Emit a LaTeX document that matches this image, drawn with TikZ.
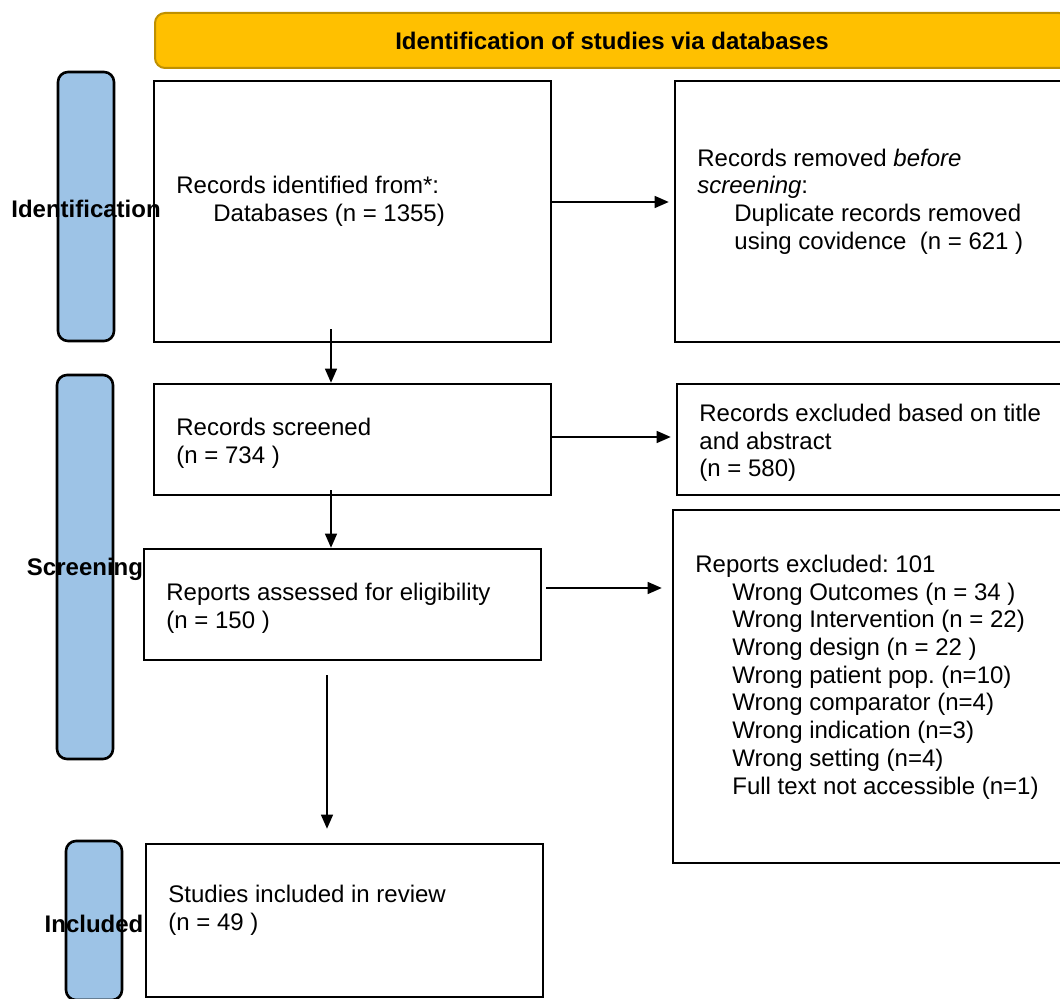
\documentclass[tikz,border=0pt]{standalone}
\usepackage{fontspec}
\setmainfont{Liberation Sans}
\usepackage{xcolor}
\usetikzlibrary{arrows.meta,positioning}
\definecolor{bannerfill}{HTML}{FFC000}
\definecolor{bannerdraw}{HTML}{BF9000}
\definecolor{stagefill}{HTML}{9DC3E6}
\newcommand{\ind}{\hspace*{18.5pt}}
\frenchspacing

\begin{document}
\begin{tikzpicture}[x=0.5pt, y=-0.5pt, font=\fontsize{12}{13.85}\selectfont,
  box/.style={draw, line width=1.3pt, inner sep=0pt, minimum width=198.5pt},
  stage/.style={draw, line width=1.3pt, fill=stagefill, rounded corners=5pt,
    inner sep=0pt, minimum width=28pt},
  stagelab/.style={font=\fontsize{12}{13.85}\selectfont\bfseries},
  txt/.style={anchor=west, align=left, inner sep=0pt},
  arr/.style={-{Triangle[length=7pt, width=6pt]}, line width=0.65pt}]
\useasboundingbox (0,0) rectangle (1060,999);
% ---- banner ----
\node[draw=bannerdraw, fill=bannerfill, line width=1pt, rounded corners=5pt,
  minimum width=457pt, minimum height=27.5pt, font=\fontsize{12}{13.85}\selectfont\bfseries]
  (banner) at (612,40.5) {Identification of studies via databases};
% ---- stage bars on the left ----
\node[stage, minimum height=134.5pt] (idbar) at (86,206.5) {};
\node[stage, minimum height=192pt] (scrbar) at (85,567) {};
\node[stage, minimum height=79.5pt] (incbar) at (94,920.5) {};
\node[stagelab] (idlab) at (86,209) {Identification};
\node[stagelab] (scrlab) at (85,569) {Screening};
\node[stagelab] (inclab) at (94,924) {Included};
% ---- main column ----
\node[box, minimum height=130.5pt] (ident) at (352.5,211.5) {};
\node[txt] (identtxt) at (176,201.5)
  {Records identified from*:\\ \ind Databases (n = 1355)};
\node[box, minimum height=55.5pt] (screened) at (352.5,439.5) {};
\node[txt] (screenedtxt) at (176,443) {Records screened\\(n = 734 )};
\node[box, minimum height=55.5pt] (assessed) at (342.5,604.5) {};
\node[txt] (assessedtxt) at (166,608) {Reports assessed for eligibility\\(n = 150 )};
\node[box, minimum height=76.5pt] (included) at (344.5,920.5) {};
\node[txt] (includedtxt) at (168,910) {Studies included in review\\(n = 49 )};
% ---- right column ----
\node[box, minimum height=130.5pt] (removed) at (873.5,211.5) {};
\node[txt] (removedtxt) at (697,201.5)
  {Records removed \textit{before}\\ \textit{screening}:\\
   \ind Duplicate records removed\\ \ind using covidence\ \ (n = 621 )};
\node[box, minimum height=55.5pt] (excluded) at (875.5,439.5) {};
\node[txt] (excludedtxt) at (699,443)
  {Records excluded based on title\\and abstract\\(n = 580)};
\node[box, minimum height=176.5pt] (rptexcl) at (871.5,686.5) {};
\node[txt] (rptexcltxt) at (695,677)
  {Reports excluded: 101\\
   \ind Wrong Outcomes (n = 34 )\\
   \ind Wrong Intervention (n = 22)\\
   \ind Wrong design (n = 22 )\\
   \ind Wrong patient pop. (n=10)\\
   \ind Wrong comparator (n=4)\\
   \ind Wrong indication (n=3)\\
   \ind Wrong setting (n=4)\\
   \ind Full text not accessible (n=1)};
% ---- arrows ----
\coordinate (colx) at (331,0);
\coordinate (colx2) at (327,0);
\coordinate (row1) at (0,202);
\coordinate (row2) at (0,437);
\coordinate (row3) at (0,588);
\draw[arr] ([yshift=7pt]ident.south -| colx) -- (screened.north -| colx);
\draw[arr] ([yshift=3pt]screened.south -| colx) -- (assessed.north -| colx);
\draw[arr, shorten <=7pt, shorten >=7pt] (assessed.south -| colx2) -- (included.north -| colx2);
\draw[arr, shorten >=2.5pt] (ident.east |- row1) -- (removed.west |- row1);
\draw[arr, shorten >=2.5pt] (screened.east |- row2) -- (excluded.west |- row2);
\draw[arr, shorten <=2pt, shorten >=5pt] (assessed.east |- row3) -- (rptexcl.west |- row3);
\end{tikzpicture}
\end{document}
